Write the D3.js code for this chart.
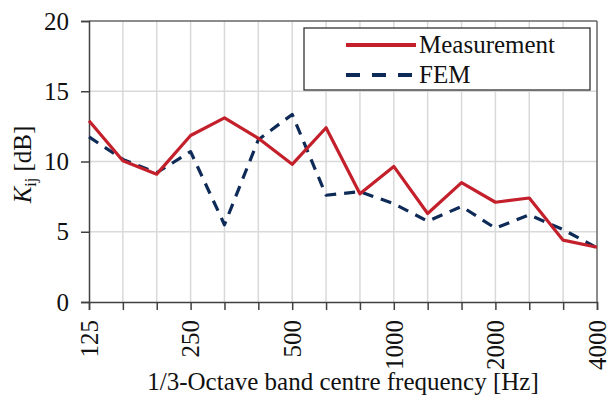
<!DOCTYPE html>
<html>
<head>
<meta charset="utf-8">
<script src="https://cdn.jsdelivr.net/npm/d3@7"></script>
<style>
  body { margin: 0; background: #fff; }
  text { font-family: "Liberation Serif", "Times New Roman", serif; fill: #111; }
</style>
</head>
<body>
<script>
const width = 608
const height = 399
const margin = { top: 21, right: 11, bottom: 97, left: 89 }

// 1/3-octave band centre frequencies [Hz]
const bands = [125, 160, 200, 250, 315, 400, 500, 630, 800, 1000, 1250, 1600, 2000, 2500, 3150, 4000]
const labelledBands = [125, 250, 500, 1000, 2000, 4000]
const yTicks = [0, 5, 10, 15, 20]

const measurement = [12.9, 10.05, 9.1, 11.85, 13.1, 11.65, 9.8, 12.4, 7.7, 9.65, 6.3, 8.5, 7.1, 7.4, 4.4, 3.9]
const fem = [11.75, 10.15, 9.2, 10.7, 5.5, 11.55, 13.35, 7.6, 7.85, 7.0, 5.75, 6.8, 5.25, 6.2, 5.15, 3.85]

const seriesNames = ["Measurement", "FEM"]
const seriesColors = ["#c3202b", "#0e2a57"]

const x = d3.scalePoint().domain(bands).range([margin.left, width - margin.right])
const y = d3.scaleLinear().domain([0, 20]).range([height - margin.bottom, margin.top])

const svg = d3.select("body").append("svg")
  .attr("width", width)
  .attr("height", height)

// grid
svg.append("g")
  .selectAll("line")
  .data(bands.slice(1, -1))
  .join("line")
  .attr("x1", d => x(d)).attr("x2", d => x(d))
  .attr("y1", y(20)).attr("y2", y(0))
  .attr("stroke", "#d9d9d9").attr("stroke-width", 1.5)

svg.append("g")
  .selectAll("line")
  .data(yTicks.slice(1, -1))
  .join("line")
  .attr("x1", x(125)).attr("x2", x(4000))
  .attr("y1", d => y(d)).attr("y2", d => y(d))
  .attr("stroke", "#d9d9d9").attr("stroke-width", 1.5)

// frame top / right
svg.append("line")
  .attr("x1", x(125)).attr("x2", x(4000))
  .attr("y1", y(20)).attr("y2", y(20))
  .attr("stroke", "#666").attr("stroke-width", 1.5)
svg.append("line")
  .attr("x1", x(4000)).attr("x2", x(4000))
  .attr("y1", y(20)).attr("y2", y(0))
  .attr("stroke", "#666").attr("stroke-width", 1.5)

// y axis
const yAxis = svg.append("g")
  .attr("transform", `translate(${margin.left},0)`)
  .call(d3.axisLeft(y).tickValues(yTicks).tickSize(8).tickPadding(12))
yAxis.select(".domain").attr("stroke", "#404040").attr("stroke-width", 1.5)
yAxis.selectAll(".tick line").attr("stroke", "#404040").attr("stroke-width", 1.5)
yAxis.selectAll(".tick text")
  .attr("font-size", 25)
  .attr("font-family", "Liberation Serif, Times New Roman, serif")
  .attr("fill", "#111")

// x axis
const xAxis = svg.append("g")
  .attr("transform", `translate(0,${height - margin.bottom})`)
  .call(d3.axisBottom(x).tickSize(8).tickFormat(d => labelledBands.includes(d) ? d : ""))
xAxis.select(".domain").attr("stroke", "#404040").attr("stroke-width", 1.5)
xAxis.selectAll(".tick line").attr("stroke", "#404040").attr("stroke-width", 1.5)
xAxis.selectAll(".tick text")
  .attr("font-size", 25)
  .attr("font-family", "Liberation Serif, Times New Roman, serif")
  .attr("fill", "#111")
  .attr("text-anchor", "end")
  .attr("transform", "rotate(-90)")
  .attr("x", -18)
  .attr("y", 0)
  .attr("dy", "0.33em")

// axis titles
svg.append("text")
  .attr("x", (x(125) + x(4000)) / 2)
  .attr("y", 390)
  .attr("text-anchor", "middle")
  .attr("font-size", 25)
  .text("1/3-Octave band centre frequency [Hz]")

const yTitle = svg.append("text")
  .attr("transform", `translate(31,${(y(0) + y(20)) / 2 + 3}) rotate(-90)`)
  .attr("text-anchor", "middle")
  .attr("font-size", 25)
yTitle.append("tspan").attr("font-style", "italic").text("K")
yTitle.append("tspan").attr("font-size", 16).attr("dy", 5).text("ij")
yTitle.append("tspan").attr("dy", -5).text(" [dB]")

// lines
const line = d3.line()
  .x((d, i) => x(bands[i]))
  .y(d => y(d))

svg.append("path")
  .datum(fem)
  .attr("d", line)
  .attr("fill", "none")
  .attr("stroke", seriesColors[1])
  .attr("stroke-width", 3.2)
  .attr("stroke-dasharray", "11,8")
  .attr("stroke-linejoin", "round")

svg.append("path")
  .datum(measurement)
  .attr("d", line)
  .attr("fill", "none")
  .attr("stroke", seriesColors[0])
  .attr("stroke-width", 3.2)
  .attr("stroke-linejoin", "round")

// legend
const legend = svg.append("g").attr("transform", "translate(304,28)")
legend.append("rect")
  .attr("width", 286).attr("height", 62)
  .attr("fill", "#fff").attr("stroke", "#222").attr("stroke-width", 1.2)

seriesNames.forEach((name, i) => {
  const row = legend.append("g").attr("transform", `translate(0,${17 + i * 30})`)
  row.append("line")
    .attr("x1", 42).attr("x2", 112)
    .attr("stroke", seriesColors[i])
    .attr("stroke-width", 4)
    .attr("stroke-dasharray", i === 1 ? "14,12" : null)
  row.append("text")
    .attr("x", 115)
    .attr("y", 8)
    .attr("font-size", 25)
    .text(name)
})
</script>
</body>
</html>
